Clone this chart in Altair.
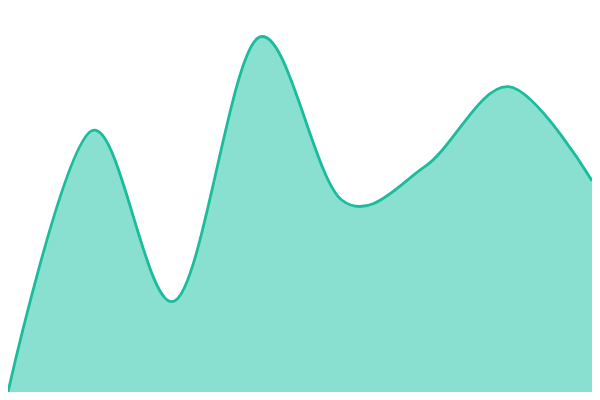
import altair as alt
import pandas as pd

xs = [0, 1, 2, 3, 4, 5, 6, 7]
vals = [0, 68, 23.75, 92.25, 50, 58.75, 79.5, 55]

df = pd.DataFrame({"x": xs, "v": vals})

x = alt.X("x:Q", axis=None, scale=alt.Scale(domain=[0, 7], nice=False, zero=False))
y = alt.Y("v:Q", axis=None, scale=alt.Scale(domain=[0, 100], nice=False))

area = alt.Chart(df).mark_area(interpolate="cardinal", color="#89e0d0", opacity=1).encode(x=x, y=y)
line = alt.Chart(df).mark_line(interpolate="cardinal", color="#1abc9c", strokeWidth=2.8).encode(x=x, y=y)

chart = alt.layer(area, line).properties(
    width=584, height=384, padding=0,
    autosize=alt.AutoSizeParams(type="none"),
).configure_view(stroke=None)

chart.save("out.html", embed_options={"renderer": "svg", "actions": False})
